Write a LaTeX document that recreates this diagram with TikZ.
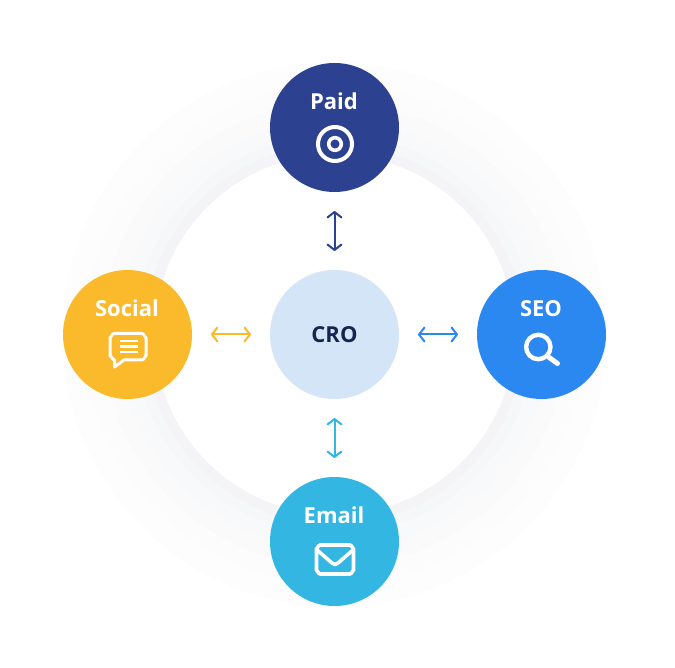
\documentclass[tikz,border=0pt]{standalone}
\usepackage{fontspec}
\setmainfont{Open Sans}
\usetikzlibrary{arrows.meta}
\definecolor{cpaid}{HTML}{2C4290}
\definecolor{csocial}{HTML}{FBB92C}
\definecolor{cseo}{HTML}{2B88F0}
\definecolor{cemail}{HTML}{33B6E2}
\definecolor{ccro}{HTML}{D3E5F7}
\definecolor{ccrotext}{HTML}{14264F}
\tikzset{
  hub/.style={circle,minimum size=129pt,inner sep=0pt,outer sep=0pt},
  lab/.style={text=white,font=\fontsize{22}{24}\selectfont\bfseries,inner sep=0pt,anchor=base},
  link/.style={line width=2pt,shorten <=19pt,shorten >=19pt,{Straight Barb[length=5.5pt,width=14pt,round]}-{Straight Barb[length=5.5pt,width=14pt,round]}},
  icon/.style={draw=white,line width=#1,line cap=round,line join=round},
  icon/.default=2.6pt
}
\begin{document}
\begin{tikzpicture}[x=1pt,y=-1pt]
\useasboundingbox[fill=white] (0,0) rectangle (675,668);
% soft ring
\foreach \r/\c in {272/FDFDFD,250/FCFCFC,232/FAFAFB,215/F8F9FA,200/F6F7F8,190/F4F4F6}{
  \definecolor{ringc}{HTML}{\c}
  \fill[ringc] (334.5,334.5) circle[radius=\r];
}
\fill[white] (334.5,334.5) circle[radius=180];
% hubs
\node[hub,fill=cpaid] (paid) at (334.5,127.5) {};
\node[hub,fill=csocial] (social) at (127.5,334.5) {};
\node[hub,fill=cseo] (seo) at (541.5,334.5) {};
\node[hub,fill=cemail] (email) at (334.5,541.5) {};
\node[hub,fill=ccro,text=ccrotext,font=\fontsize{22}{24}\selectfont\bfseries] (cro) at (334.5,334.5) {CRO};
% labels
\node[lab] (tpaid) at (334,109.5) {Paid};
\node[lab] (tsocial) at (127,316.5) {Social};
\node[lab] (tseo) at (541,316.5) {SEO};
\node[lab] (temail) at (334,523) {Email};
% connectors
\draw[link,draw=cpaid] (cro) -- (paid);
\draw[link,draw=csocial] (cro) -- (social);
\draw[link,draw=cseo] (cro) -- (seo);
\draw[link,draw=cemail] (cro) -- (email);
% target icon
\draw[icon=4pt] (335,144) circle[radius=17];
\draw[icon=3.6pt] (335,144) circle[radius=6.3];
% speech bubble
\draw[icon=3pt] (114,333.5) -- (142,333.5) to[out=0,in=-90] (146,337.5) -- (146,356) to[out=90,in=0] (142,360) -- (124,360) -- (114.5,367) -- (114.5,360) to[out=180,in=90] (110,356) -- (110,337.5) to[out=-90,in=180] (114,333.5) -- cycle;
\draw[white,line width=2.6pt] (119.5,341) -- (137.5,341) (119.5,346.7) -- (137.5,346.7) (119.5,352) -- (137.5,352);
% magnifier
\draw[icon=4.4pt] (538.3,347) circle[radius=12.2];
\draw[icon=5pt] (548.5,357) -- (557.5,363.5);
% envelope
\draw[icon=3.6pt] (320,545) -- (350,545) to[out=0,in=-90] (353.5,548.5) -- (353.5,570.5) to[out=90,in=0] (350,574) -- (320,574) to[out=180,in=90] (316.5,570.5) -- (316.5,548.5) to[out=-90,in=180] (320,545) -- cycle;
\draw[icon=3.6pt] (317,550) -- (332,563) -- (335,564.5) -- (338,563) -- (353,550);
\end{tikzpicture}
\end{document}
